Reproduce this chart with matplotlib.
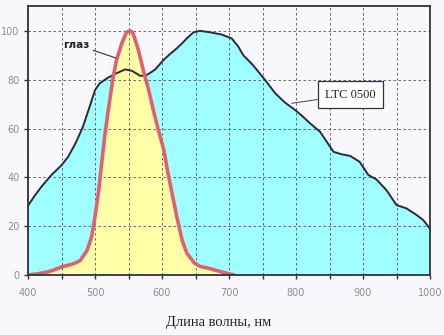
import matplotlib
matplotlib.use("Agg")
import matplotlib.pyplot as plt
import numpy as np

# LTC 0500 spectral sensitivity, %
ltc_nm = [400, 410, 420, 435, 450, 460, 472, 482, 492, 500, 507, 520, 532, 545, 555, 562, 567,
          575, 582, 590, 602, 612, 622, 630, 637, 647, 657, 672, 689, 704, 714, 721, 736,
          754, 769, 784, 799, 810, 821, 836, 846, 856, 868, 881, 895, 908, 920, 935,
          950, 965, 980, 990, 1000]
ltc_val = [28.4, 32.5, 36.2, 41, 45, 48.5, 54.6, 60.8, 69, 75.8, 78.6, 81, 82.7, 84.3, 83.7, 82.6, 81.7,
           81.7, 82.8, 84.3, 88.1, 90.6, 92.9, 95, 97, 99.5, 100.1, 99.5, 98.6, 97, 93.6, 90.2, 86,
           79.9, 74.5, 70.6, 67.6, 65, 62.2, 58.7, 54.6, 50.5, 49.5, 48.8, 46.4, 41, 39.2, 34.8,
           28.7, 27.3, 24.6, 22.5, 19]

# Human eye relative sensitivity, %
eye_nm = [400, 415, 430, 440, 450, 460, 470, 478, 488, 495, 500, 505, 510, 515, 520, 527, 532,
          540, 547, 551, 554, 557, 565, 572, 580, 587, 595, 603, 608, 615, 622, 630, 637,
          648, 657, 667, 677, 690, 701, 708]
eye_val = [0, 0.5, 1.3, 2.2, 3.3, 4, 4.8, 6, 10, 15.7, 24, 33.5, 46, 58, 68, 81, 88,
           95, 99.5, 100, 100, 99, 92, 84, 76, 67.6, 59, 51, 43, 33.5, 24, 14.3, 9,
           5, 3.5, 2.9, 2.2, 1.2, 0.4, 0]

x_ticks = [400, 500, 600, 700, 800, 900, 1000]
y_ticks = [0, 20, 40, 60, 80, 100]

bg = "#f8f8fc"
fig = plt.figure(figsize=(4.44, 3.35), dpi=100, facecolor=bg)
ax = fig.add_axes([28 / 444, 1 - 275 / 335, 402 / 444, 269.5 / 335])
ax.set_facecolor(bg)

ax.fill_between(ltc_nm, ltc_val, 0, color="#a0ffff", lw=0, zorder=1)
ax.fill_between(eye_nm, eye_val, 0, color="#ffffa8", lw=0, zorder=2)
ax.plot(ltc_nm, ltc_val, color="#2a2a38", lw=1.4, zorder=4, solid_joinstyle="round")
ax.plot(eye_nm, eye_val, color="#e06070", lw=2.6, zorder=5, solid_capstyle="round",
        solid_joinstyle="round")

ax.set_xlim(400, 1000)
ax.set_ylim(0, 110.5)
ax.set_xticks(np.arange(400, 1001, 50))
ax.set_xticklabels([str(v) if v in x_ticks else "" for v in range(400, 1001, 50)])
ax.set_yticks(y_ticks)
ax.grid(True, color="#505060", ls=(0, (3, 3)), lw=0.6, zorder=3)
ax.set_axisbelow(False)
for s in ax.spines.values():
    s.set_color("#303040")
    s.set_linewidth(1.3)
    s.set_zorder(6)
ax.tick_params(axis="both", colors="#303040", labelcolor="#8a8a92", labelsize=7,
               length=3, width=1, pad=6)
ax.tick_params(axis="y", pad=3, length=3)

ax.set_xlabel("Длина волны, нм", fontfamily="Liberation Serif", fontsize=10.5,
              color="#202020")
ax.xaxis.set_label_coords(0.473, -0.152)

ax.annotate("глаз", xy=(531, 89), xytext=(452, 94.5), fontsize=7.5, fontweight="bold",
            color="#202030", ha="left", va="center",
            arrowprops=dict(arrowstyle="-", color="#303040", lw=0.8, shrinkA=1, shrinkB=0),
            zorder=7)
ax.annotate("LTC 0500", xy=(793.5, 70.4), xytext=(881.5, 73.9), fontsize=9,
            fontfamily="Liberation Serif", color="#202020", ha="center", va="center",
            bbox=dict(boxstyle="square,pad=0.6", fc="white", ec="#303040", lw=0.9),
            arrowprops=dict(arrowstyle="-", color="#404050", lw=0.7, shrinkA=0, shrinkB=0),
            zorder=7)

fig.savefig("out.png", dpi=100, facecolor=bg)
